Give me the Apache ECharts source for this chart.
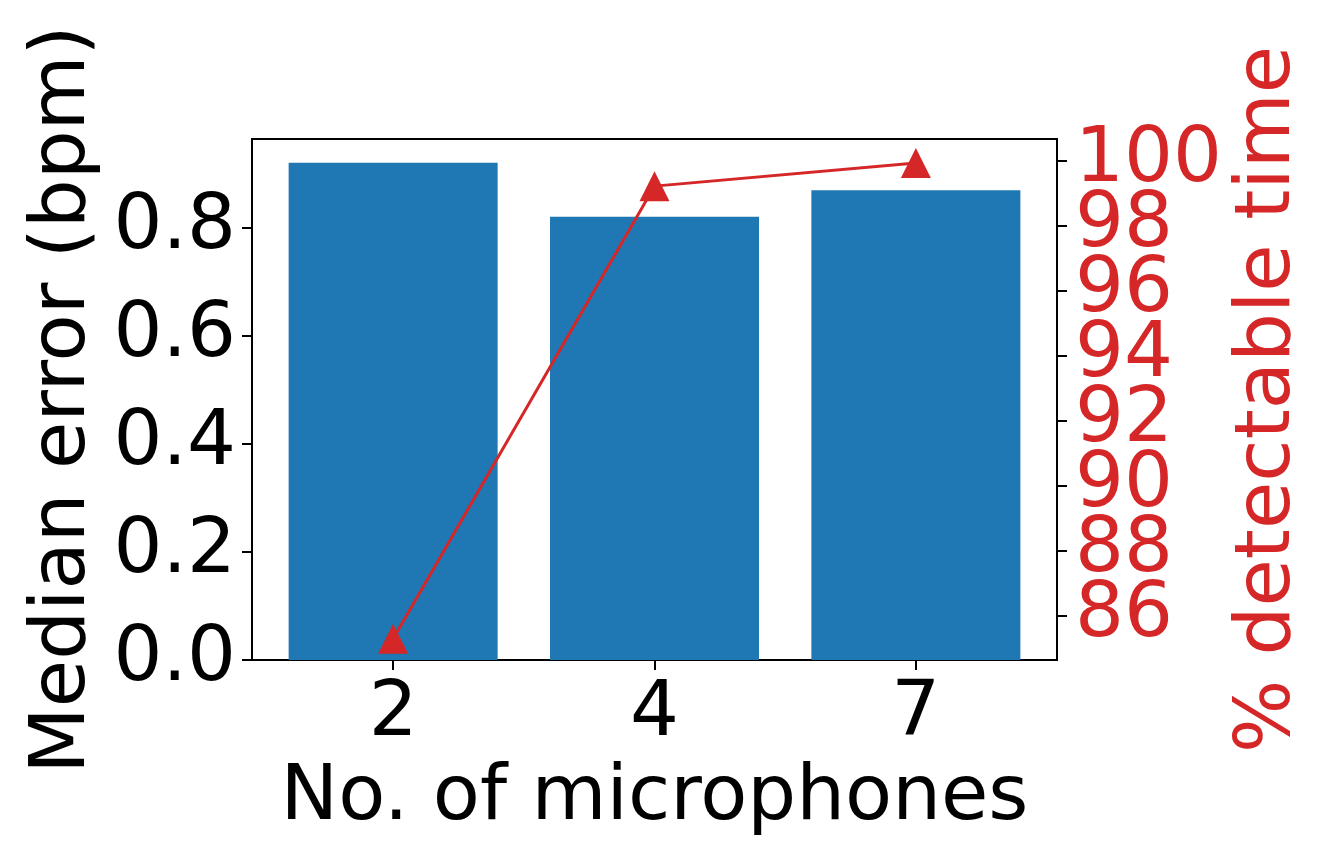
<!DOCTYPE html>
<html>
<head>
<meta charset="utf-8">
<script src="https://cdn.jsdelivr.net/npm/echarts@6/dist/echarts.min.js"></script>
<style>
  html, body { margin: 0; padding: 0; background: #fff; }
  #chart { width: 1318px; height: 860px; }
</style>
</head>
<body>
<div id="chart"></div>
<script>
// data
const micCounts = ['2', '4', '7']
const medianError = [0.92, 0.82, 0.869]
const detectablePct = [85.3, 99.23, 99.94]
const leftTicks = [0, 0.2, 0.4, 0.6, 0.8]
const rightTicks = [86, 88, 90, 92, 94, 96, 98, 100]

const font = 'DejaVu Sans'
const fs = 77
const red = '#d62728'
const blue = '#1f77b4'
const rightMin = 84.65
const rightMax = 100.68

const chart = echarts.init(document.getElementById('chart'))

const xIdx = micCounts.map((c, i) => i)

// right-axis labels touch each other, so they are split over two stacked axes
// (otherwise echarts drops the ones next to min/max)
function rightAxis(ticks, withName) {
  return {
    type: 'value',
    position: 'right',
    min: rightMin, max: rightMax,
    splitLine: { show: false },
    axisLine: { show: true, onZero: false, lineStyle: { color: '#000', width: 2 } },
    axisTick: { show: true, customValues: ticks, length: 10, lineStyle: { color: '#000', width: 2 } },
    axisLabel: {
      customValues: ticks,
      showMinLabel: true, showMaxLabel: true,
      color: red, fontFamily: font, fontSize: fs, margin: 18
    },
    name: withName ? '% detectable time' : '',
    nameLocation: 'middle',
    nameRotate: 90,
    nameGap: 173,
    nameTextStyle: { color: red, fontFamily: font, fontSize: fs }
  }
}

const option = {
  animation: false,
  grid: {
    left: 252, top: 139, right: 261, bottom: 200,
    show: true, borderColor: '#000', borderWidth: 2, backgroundColor: 'transparent'
  },
  xAxis: {
    type: 'value',
    min: -0.54, max: 2.54,
    splitLine: { show: false },
    axisLine: { show: true, onZero: false, lineStyle: { color: '#000', width: 2 } },
    axisTick: { show: true, customValues: xIdx, length: 10, lineStyle: { color: '#000', width: 2 } },
    axisLabel: {
      customValues: xIdx,
      formatter: v => micCounts[Math.round(v)],
      color: '#000', fontFamily: font, fontSize: fs, margin: 16
    },
    name: 'No. of microphones',
    nameLocation: 'middle',
    nameGap: 100,
    nameTextStyle: { color: '#000', fontFamily: font, fontSize: fs }
  },
  yAxis: [
    {
      type: 'value',
      min: 0, max: 0.964,
      splitLine: { show: false },
      axisLine: { show: true, onZero: false, lineStyle: { color: '#000', width: 2 } },
      axisTick: { show: true, customValues: leftTicks, length: 10, lineStyle: { color: '#000', width: 2 } },
      axisLabel: {
        customValues: leftTicks,
        showMinLabel: true, showMaxLabel: true,
        formatter: v => v.toFixed(1),
        color: '#000', fontFamily: font, fontSize: fs, margin: 16
      },
      name: 'Median error (bpm)',
      nameLocation: 'middle',
      nameRotate: 90,
      nameGap: 143,
      nameTextStyle: { color: '#000', fontFamily: font, fontSize: fs }
    },
    rightAxis(rightTicks.filter((t, i) => i % 2 === 0), true),
    rightAxis(rightTicks.filter((t, i) => i % 2 === 1), false)
  ],
  series: [
    {
      type: 'bar',
      yAxisIndex: 0,
      barWidth: 209,
      itemStyle: { color: blue },
      data: medianError.map((v, i) => [i, v])
    },
    {
      type: 'line',
      yAxisIndex: 1,
      symbol: 'triangle',
      symbolSize: 30,
      lineStyle: { color: red, width: 3 },
      itemStyle: { color: red },
      data: detectablePct.map((v, i) => [i, v]),
      z: 5
    }
  ]
}

chart.setOption(option)
</script>
</body>
</html>
